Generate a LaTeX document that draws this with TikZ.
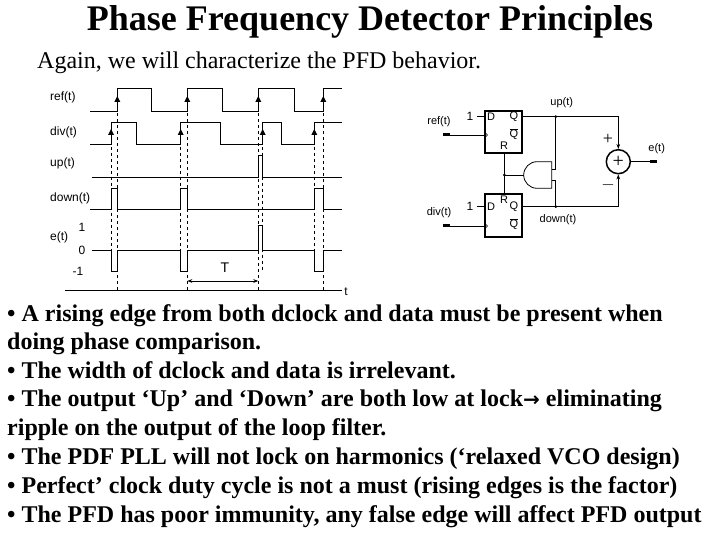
\documentclass[tikz,border=0pt]{standalone}
\usepackage{fontspec}
\usetikzlibrary{arrows.meta}
\setmainfont{Liberation Serif}
\newfontfamily\arialf{Liberation Sans}
\begin{document}
\begin{tikzpicture}[x=1pt,y=-1pt,
  sig/.style={line width=1pt},
  dsh/.style={dashed,line width=0.5pt},
  lbl/.style={font=\arialf\fontsize{12}{12}\selectfont,inner sep=0pt},
  sml/.style={font=\arialf\fontsize{11}{11}\selectfont,inner sep=0pt},
  ffbox/.style={draw,line width=1.8pt,minimum width=36.7pt,minimum height=42.6pt,inner sep=0pt},
  wire/.style={line width=0.8pt},
  term/.style={line width=3pt},
  btxt/.style={anchor=base west,inner sep=0pt,font=\bfseries\fontsize{24}{24}\selectfont}]
\useasboundingbox (0,0) rectangle (720,540);
\node (title) at (370,22) {\bfseries\fontsize{36}{36}\selectfont Phase Frequency Detector Principles};
\node[anchor=base west,inner sep=0pt] (sub) at (37,69) {\fontsize{24}{24}\selectfont Again, we will characterize the PFD behavior.};
% timing labels
\node[lbl,anchor=west] (lr) at (50,97) {ref(t)};
\node[lbl,anchor=west] (ld) at (50,132) {div(t)};
\node[lbl,anchor=west] (lu) at (50,163) {up(t)};
\node[lbl,anchor=west] (ldn) at (50,198) {down(t)};
\node[lbl,anchor=west] (le) at (50,237) {e(t)};
\node[lbl] (l1) at (82,227) {1};
\node[lbl] (l0) at (82,250) {0};
\node[lbl] (lm) at (78,271) {-1};
% ref
\draw[sig] (90,112) -- (117.3,112) -- (117.3,89) -- (151.7,89) -- (151.7,112) -- (187.3,112) -- (187.3,89) -- (222.7,89) -- (222.7,112) -- (258.3,112) -- (258.3,89) -- (294,89) -- (294,112) -- (323.3,112) -- (323.3,89) -- (341.7,89);
\foreach \x in {117.3,187.3,258.3,323.3} \fill (\x,96) -- ++(-3,6) -- ++(6,0) -- cycle;
% div
\draw[sig] (90,145) -- (111,145) -- (111,122.7) -- (136.7,122.7) -- (136.7,145) -- (180.7,145) -- (180.7,122.7) -- (220,122.7) -- (220,145) -- (262.7,145) -- (262.7,122.7) -- (281.7,122.7) -- (281.7,145) -- (314.3,145) -- (314.3,122.7) -- (341.7,122.7);
\foreach \x in {111,180.7,262.7,314.3} \fill (\x,129) -- ++(-3,6) -- ++(6,0) -- cycle;
% up
\draw[sig] (91.7,177.7) -- (258.3,177.7) -- (258.3,156) -- (262.7,156) -- (262.7,177.7) -- (341.7,177.7);
% down
\draw[sig] (90,210) -- (111,210) -- (111,188.3) -- (117.3,188.3) -- (117.3,210) -- (180.7,210) -- (180.7,188.3) -- (187.3,188.3) -- (187.3,210) -- (314.3,210) -- (314.3,188.3) -- (323.3,188.3) -- (323.3,210) -- (341.7,210);
% e
\draw[sig] (91.7,250) -- (111,250) -- (111,271.7) -- (117.3,271.7) -- (117.3,250) -- (180.7,250) -- (180.7,271.7) -- (187.3,271.7) -- (187.3,250) -- (258.3,250) -- (258.3,226) -- (262.7,226) -- (262.7,250) -- (314.3,250) -- (314.3,271.7) -- (323.3,271.7) -- (323.3,250) -- (341.7,250);
% dashed
\foreach \x in {117.3,187.3,258.3,323.3} \draw[dsh] (\x,89) -- (\x,290.7);
\foreach \x in {111,180.7,262.7,314.3} \draw[dsh] (\x,122.7) -- (\x,271.7);
% axis
\coordinate (ax0) at (65,290.7); \coordinate (ax1) at (341.7,290.7);
\draw[line width=0.8pt] (ax0) -- (ax1);
\node[lbl] (lt) at (346,292) {t};
\coordinate (ta) at (187.3,281); \coordinate (tb) at (258.3,281);
\draw[line width=0.8pt,{Stealth[length=5pt]}-{Stealth[length=5pt]}] (ta) -- (tb);
\node[lbl,font=\arialf\fontsize{14}{14}\selectfont] (lT) at (225,268) {T};
% circuit
\node[ffbox] (ff1) at (503.3,132) {};
\node[ffbox] (ff2) at (503.3,215.3) {};
\node[sml] at (491,117) {D};
\node[sml] at (514,117) {Q};
\node[sml] at (514,134) {$\overline{\mbox{Q}}$};
\node[sml] at (504,146) {R};
\node[sml] at (491,207) {D};
\node[sml] at (504,200) {R};
\node[sml] at (514,207) {Q};
\node[sml] at (514,224) {$\overline{\mbox{Q}}$};
\foreach \y in {135,226} \draw[line width=0.5pt] (485,\y-2.5) -- (487.5,\y) -- (485,\y+2.5);
\node[lbl] (one1) at (470,116) {1};
\node[lbl] (one2) at (470,206.7) {1};
\draw[wire] (476.7,116.7) -- (485,116.7);
\draw[wire] (476.7,206.7) -- (485,206.7);
\node[sml] (cref) at (439,122) {ref(t)};
\node[sml] (cdiv) at (439,213) {div(t)};
\draw[term] (443,135) -- (450,135); \draw[wire] (450,135) -- (485,135);
\draw[term] (443,226) -- (450,226); \draw[wire] (450,226) -- (485,226);
\node[draw,circle,line width=1.5pt,minimum size=24pt,inner sep=0pt] (sum) at (618.3,161.7) {\fontsize{20}{20}\selectfont +};
\coordinate (j1) at (555.7,116.7); \coordinate (j2) at (555.7,206.7);
\draw[wire,-{Stealth[length=5pt]}] (521.7,116.7) -- (618.3,116.7) -- (sum.north);
\draw[wire,-{Stealth[length=5pt]}] (521.7,206.7) -- (618.3,206.7) -- (sum.south);
\fill (j1) circle (1.5pt); \fill (j2) circle (1.5pt);
% AND gate facing left
\draw[wire] (551.7,161.7) -- (537,161.7) arc (270:90:13.3) -- (551.7,188.3) -- cycle;
\draw[wire] (j1) -- (555.7,169) -- (551.7,169);
\draw[wire] (j2) -- (555.7,180.7) -- (551.7,180.7);
\coordinate (jr) at (504.3,175);
\draw[wire] (523.7,175) -- (jr);
\draw[wire] (504.3,153.3) -- (504.3,194);
\fill (jr) circle (1.5pt);
\node[sml] (cup) at (561.7,103) {up(t)};
\node[sml] (cdn) at (558,220) {down(t)};
\node[lbl,font=\fontsize{18}{18}\selectfont] at (608,139) {+};
\node[lbl,font=\fontsize{18}{18}\selectfont] at (608,185) {$-$};
\node[sml] (ce) at (656.7,149) {e(t)};
\draw[wire] (sum.east) -- (650,161.7);
\draw[term] (650,161.7) -- (657,161.7);
% bullets
\node[btxt] at (7,321) {• A rising edge from both dclock and data must be present when};
\node[btxt] at (7,349) {doing phase comparison.};
\node[btxt] at (7,378) {• The width of dclock and data is irrelevant.};
\node[btxt] at (7,406) {• The output ‘Up’ and ‘Down’ are both low at lock{\fontspec{DejaVu Sans}\bfseries\fontsize{20}{20}\selectfont →} eliminating};
\node[btxt] at (7,435) {ripple on the output of the loop filter.};
\node[btxt] at (7,464) {• The PDF PLL will not lock on harmonics (‘relaxed VCO design)};
\node[btxt] at (7,493) {• Perfect’ clock duty cycle is not a must (rising edges is the factor)};
\node[btxt] at (7,522) {• The PFD has poor immunity, any false edge will affect PFD output};
\end{tikzpicture}
\end{document}
